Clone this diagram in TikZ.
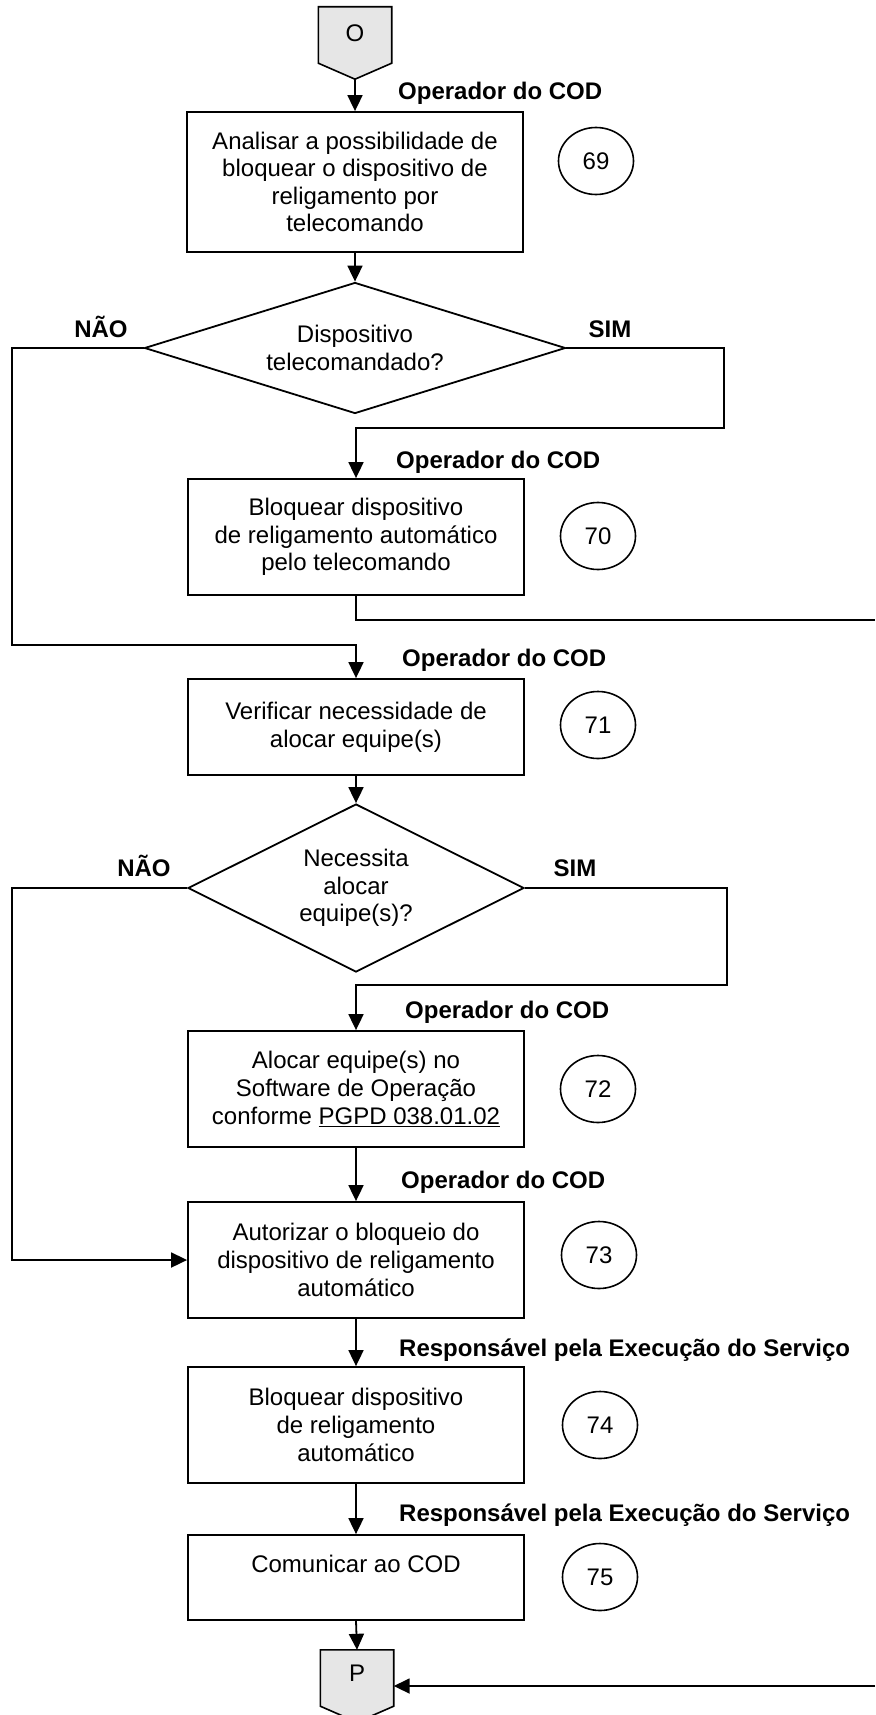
\documentclass[tikz,border=0pt]{standalone}
\usepackage{fontspec}
\setmainfont{Liberation Sans}
\usetikzlibrary{arrows.meta,shapes.geometric,calc}
\definecolor{offgray}{RGB}{230,230,230}
\begin{document}
\begin{tikzpicture}[x=1pt,y=-1pt,
  every node/.style={font=\fontsize{24}{27.6}\selectfont},
  proc/.style={draw,line width=1.8pt,minimum width=336,align=center,inner sep=0},
  dec/.style={draw,diamond,line width=1.8pt,align=center,inner sep=0},
  num/.style={draw,ellipse,line width=1.6pt,minimum width=75,minimum height=67,inner sep=0},
  role/.style={font=\fontsize{24}{27.6}\selectfont\bfseries,anchor=base west,inner sep=0},
  yn/.style={font=\fontsize{24}{27.6}\selectfont\bfseries,anchor=base,inner sep=0},
  conn/.style={line width=1.8pt},
  arr/.style={conn,-{Triangle[length=16pt,width=15pt]}},
  offp/.style={minimum width=73,minimum height=72,inner sep=0},
  offshape/.style={fill=offgray,draw,line width=1.6pt}
]
\useasboundingbox (0,0) rectangle (875,1715);

% off-page connector O
\node[offp] (O) at (355,43) {};
\draw[offshape] (O.north west) -- (O.north east) -- ($(O.south east)+(0,-16)$) -- (O.south) -- ($(O.south west)+(0,-16)$) -- cycle;
\node (Ot) at (355,33) {O};

% process boxes
\node[proc,minimum height=140] (b69) at (355,182) {Analisar a possibilidade de\\bloquear o dispositivo de\\religamento por\\telecomando};
\node[dec,minimum width=421,minimum height=131,aspect=3.2] (d1) at (355,348) {Dispositivo\\telecomandado?};
\node[proc,minimum height=116] (b70) at (356,537) {Bloquear dispositivo\\de religamento autom\'atico\\pelo telecomando};
\node[proc,minimum height=96] (b71) at (356,727) {Verificar necessidade de\\alocar equipe(s)};
\node[dec,minimum width=336,minimum height=168,aspect=2] (d2) at (356,888) {Necessita\\alocar\\equipe(s)?};
\node[proc,minimum height=116] (b72) at (356,1089) {Alocar equipe(s) no\\Software de Opera\c{c}\~ao\\conforme \underline{PGPD 038.01.02}};
\node[proc,minimum height=116] (b73) at (356,1260) {Autorizar o bloqueio do\\dispositivo de religamento\\autom\'atico};
\node[proc,minimum height=116] (b74) at (356,1425) {Bloquear dispositivo\\de religamento\\autom\'atico};
\node[proc,minimum height=85] (b75) at (356,1577.5) {Comunicar ao COD\\~};

% off-page connector P
\node[offp] (P) at (357,1686) {};
\draw[offshape] (P.north west) -- (P.north east) -- ($(P.south east)+(0,-16)$) -- (P.south) -- ($(P.south west)+(0,-16)$) -- cycle;
\node (Pt) at (357,1673) {P};

% step numbers
\node[num] (n69) at (596,161) {69};
\node[num] (n70) at (598,536) {70};
\node[num] (n71) at (598,725) {71};
\node[num] (n72) at (598,1089) {72};
\node[num] (n73) at (599,1255) {73};
\node[num] (n74) at (600,1425) {74};
\node[num] (n75) at (600,1577) {75};

% role labels
\node[role] (r1) at (398,100) {Operador do COD};
\node[role] (r2) at (396,468) {Operador do COD};
\node[role] (r3) at (402,666) {Operador do COD};
\node[role] (r4) at (405,1018) {Operador do COD};
\node[role] (r5) at (401,1188) {Operador do COD};
\node[role] (r6) at (399,1356) {Respons\'avel pela Execu\c{c}\~ao do Servi\c{c}o};
\node[role] (r7) at (399,1521) {Respons\'avel pela Execu\c{c}\~ao do Servi\c{c}o};

% yes / no labels
\node[yn] (no1) at (101,337) {N\~AO};
\node[yn] (yes1) at (610,337) {SIM};
\node[yn] (no2) at (144,876) {N\~AO};
\node[yn] (yes2) at (575,876) {SIM};

% free ends at the right page edge
\coordinate (e1) at (875,620);
\coordinate (e2) at (875,1686);

% connectors
\draw[arr] (O.south) -- (b69.north);
\draw[arr] (b69.south) -- (d1.north);
\draw[arr] (d1.west) -| (12,645) -| (b71.north);
\draw[arr] (d1.east) -| (724,428) -| (b70.north);
\draw[conn] (b70.south) |- (e1);
\draw[arr] (b71.south) -- (d2.north);
\draw[arr] (d2.west) -| (12,1260) |- (b73.west);
\draw[arr] (d2.east) -| (727,985) -| (b72.north);
\draw[arr] (b72.south) -- (b73.north);
\draw[arr] (b73.south) -- (b74.north);
\draw[arr] (b74.south) -- (b75.north);
\draw[arr] (b75.south) -- (P.north);
\draw[arr] (e2) -- (P.east);
\end{tikzpicture}
\end{document}
